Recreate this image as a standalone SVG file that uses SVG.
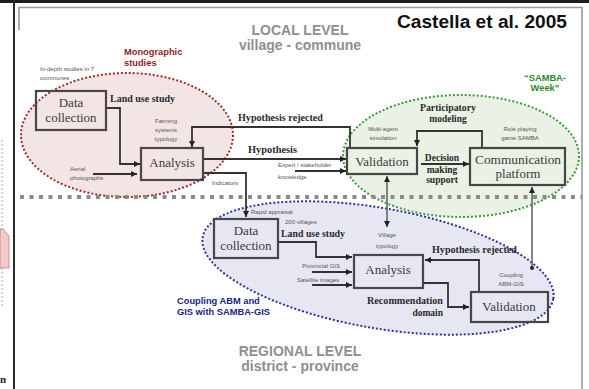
<svg xmlns="http://www.w3.org/2000/svg" width="589" height="389" viewBox="0 0 589 389">
<style>
.box{fill:none;stroke:#474747;stroke-width:2.2}
.bt{font-family:"Liberation Serif",serif;font-size:13px;fill:#3a3a3a;text-anchor:middle}
.lb{font-family:"Liberation Serif",serif;font-size:9.5px;font-weight:bold;fill:#2a2a2a}
.sm{font-family:"Liberation Sans",sans-serif;font-size:6px;fill:#555}
.smc{font-family:"Liberation Sans",sans-serif;font-size:6px;fill:#555;text-anchor:middle}
.lvl{font-family:"Liberation Sans",sans-serif;font-size:14px;font-weight:bold;fill:#8f8f8f;text-anchor:middle}
.grp{font-family:"Liberation Sans",sans-serif;font-weight:bold;font-size:9.3px}
.cn{fill:none;stroke:#333;stroke-width:1.8}
.cg{fill:none;stroke:#666;stroke-width:1.6}
</style>
<defs>
<marker id="ah" viewBox="0 0 10 10" refX="10" refY="5" markerWidth="6" markerHeight="6" markerUnits="userSpaceOnUse" orient="auto-start-reverse"><path d="M0,0 L10,5 L0,10 z" fill="#222"/></marker>
<marker id="dot" viewBox="0 0 10 10" refX="5" refY="5" markerWidth="4" markerHeight="4" markerUnits="userSpaceOnUse"><circle cx="5" cy="5" r="5" fill="#222"/></marker>
</defs>
<rect width="589" height="389" fill="#fff"/>
<g id="frame">
<line x1="0" y1="1.5" x2="589" y2="1.5" stroke="#1e1e1e" stroke-width="3"/>
<line x1="14" y1="0" x2="14" y2="389" stroke="#2a2a2a" stroke-width="2"/>
<polyline points="19,30 19,7.5 582,7.5 582,389" fill="none" stroke="#9a9a9a" stroke-width="1.6"/>
<line x1="2" y1="140" x2="2" y2="307" stroke="#bbb" stroke-width="1.2" stroke-dasharray="2 2"/>
<path d="M0,229 L3,229 L9,236 L9,268 L0,268 z" fill="#f6c9c9" stroke="#a88" stroke-width="0.8"/>
<text x="0" y="383" font-family="Liberation Serif,serif" font-size="11" font-weight="bold" fill="#222">n</text>
</g>
<g id="monographic">
<ellipse cx="127" cy="135" rx="106" ry="62" fill="#f4e5e5" stroke="#9e2a2a" stroke-width="2" stroke-dasharray="2 2"/>
<text class="grp" fill="#8e1e1e" x="124" y="55">Monographic</text>
<text class="grp" fill="#8e1e1e" x="124" y="65.5">studies</text>
</g>
<g id="samba-week">
<ellipse cx="461" cy="156" rx="118" ry="61" fill="#e9f2e5" stroke="#3c9a3c" stroke-width="2" stroke-dasharray="2 2"/>
<text class="grp" fill="#2a8a2a" x="545" y="81" text-anchor="middle">“SAMBA-</text>
<text class="grp" fill="#2a8a2a" x="545" y="91" text-anchor="middle">Week”</text>
</g>
<g id="samba-gis">
<ellipse cx="378" cy="268" rx="178" ry="60" transform="rotate(10 378 268)" fill="#e7e7f3" stroke="#30309e" stroke-width="2" stroke-dasharray="2 2"/>
<text class="grp" fill="#22228c" x="177" y="304">Coupling ABM and</text>
<text class="grp" fill="#22228c" x="177" y="315">GIS with SAMBA-GIS</text>
</g>
<line x1="20" y1="197" x2="582" y2="197" stroke="#8a8a8a" stroke-width="4" stroke-dasharray="4 5.5"/>
<text class="lvl" x="300" y="35">LOCAL LEVEL</text>
<text class="lvl" x="300" y="50">village - commune</text>
<text class="lvl" x="300" y="356" font-size="13.5">REGIONAL LEVEL</text>
<text class="lvl" x="300" y="371" font-size="13.5">district - province</text>
<text x="397" y="28" font-family="Liberation Sans,sans-serif" font-size="18" font-weight="bold" fill="#111" textLength="170" lengthAdjust="spacingAndGlyphs">Castella et al. 2005</text>
<g id="connectors">
<path class="cn" d="M106,108 H120 V164 H140" marker-end="url(#ah)"/>
<path class="cn" d="M93,174 H137" marker-end="url(#ah)"/>
<path class="cn" d="M350,148 V127 H192 V147" marker-end="url(#ah)"/>
<path class="cn" d="M203,159 H346" marker-end="url(#ah)"/>
<path class="cn" d="M295,171 H346" marker-end="url(#ah)"/>
<path class="cn" d="M203,173 H246 V217" marker-end="url(#ah)"/>
<path class="cn" d="M482,148 V131 H417 V146" marker-end="url(#ah)"/>
<path class="cn" d="M421,164 H469" marker-end="url(#ah)"/>
<path class="cg" d="M387,176 V227" marker-start="url(#ah)" marker-end="url(#ah)"/>
<path class="cg" stroke="#888" stroke-width="2" d="M532,187 V268" marker-start="url(#ah)" marker-end="url(#dot)"/>
<path class="cn" d="M278,242 H316 V257 H352" marker-end="url(#ah)"/>
<path class="cn" d="M312,272 H352" marker-end="url(#ah)"/>
<path class="cn" d="M312,285 H352" marker-end="url(#ah)"/>
<path class="cn" d="M479,292 V260 H425" marker-end="url(#ah)"/>
<path class="cn" d="M423,283 H448 V307 H469" marker-end="url(#ah)"/>
</g>
<g id="labels">
<text class="sm" x="40" y="71">In-depth studies in 7</text>
<text class="sm" x="40" y="80">communes</text>
<text class="lb" x="110" y="102" textLength="65" lengthAdjust="spacingAndGlyphs">Land use study</text>
<text class="smc" x="166" y="123">Farming</text>
<text class="smc" x="166" y="132">systems</text>
<text class="smc" x="166" y="141">typology</text>
<text class="sm" x="70" y="171">Aerial</text>
<text class="sm" x="70" y="180">photographs</text>
<text class="lb" x="238" y="121" textLength="85" lengthAdjust="spacingAndGlyphs">Hypothesis rejected</text>
<text class="lb" x="248" y="153" textLength="49" lengthAdjust="spacingAndGlyphs">Hypothesis</text>
<text class="sm" x="278" y="167">Expert / stakeholder</text>
<text class="sm" x="278" y="179">knowledge</text>
<text class="sm" x="212" y="185">Indicators</text>
<text class="sm" x="251" y="214">Rapid appraisal</text>
<text class="lb" x="448" y="111" text-anchor="middle" textLength="56" lengthAdjust="spacingAndGlyphs">Participatory</text>
<text class="lb" x="448" y="122" text-anchor="middle">modeling</text>
<text class="smc" x="383" y="131">Multi-agent</text>
<text class="smc" x="383" y="140">simulation</text>
<text class="smc" x="520" y="131">Role playing</text>
<text class="smc" x="520" y="140">game SAMBA</text>
<text class="lb" x="442" y="161" text-anchor="middle">Decision</text>
<text class="lb" x="442" y="173" text-anchor="middle">making</text>
<text class="lb" x="442" y="183" text-anchor="middle">support</text>
<text class="smc" x="387" y="237">Village</text>
<text class="smc" x="387" y="248">typology</text>
<text class="smc" x="511" y="277">Coupling</text>
<text class="smc" x="511" y="286">ABM-GIS</text>
<text class="sm" x="285" y="224">200 villages</text>
<text class="lb" x="281" y="237" textLength="64" lengthAdjust="spacingAndGlyphs">Land use study</text>
<text class="sm" x="302" y="268">Provincial GIS</text>
<text class="sm" x="297" y="282">Satellite images</text>
<text class="lb" x="432" y="253" textLength="85" lengthAdjust="spacingAndGlyphs">Hypothesis rejected</text>
<text class="lb" x="443" y="304" text-anchor="end" textLength="76" lengthAdjust="spacingAndGlyphs">Recommendation</text>
<text class="lb" x="443" y="316" text-anchor="end">domain</text>
</g>
<g id="data-collection-local">
<rect class="box" x="36" y="91" width="70" height="39"/>
<text class="bt" x="71" y="107">Data</text>
<text class="bt" x="71" y="122">collection</text>
</g>
<g id="analysis-local">
<rect class="box" x="141" y="148" width="62" height="32"/>
<text class="bt" x="172" y="167">Analysis</text>
</g>
<g id="validation-local">
<rect class="box" x="347" y="148" width="70" height="26"/>
<text class="bt" x="382" y="166">Validation</text>
</g>
<g id="communication-platform">
<rect class="box" x="470" y="148" width="95" height="37"/>
<text class="bt" x="518" y="164" textLength="86" lengthAdjust="spacingAndGlyphs">Communication</text>
<text class="bt" x="518" y="178">platform</text>
</g>
<g id="data-collection-regional">
<rect class="box" x="214" y="219" width="64" height="39"/>
<text class="bt" x="246" y="235">Data</text>
<text class="bt" x="246" y="250">collection</text>
</g>
<g id="analysis-regional">
<rect class="box" x="354" y="255" width="69" height="33"/>
<text class="bt" x="388" y="274">Analysis</text>
</g>
<g id="validation-regional">
<rect class="box" x="471" y="292" width="77" height="30"/>
<text class="bt" x="509" y="311">Validation</text>
</g>
</svg>
